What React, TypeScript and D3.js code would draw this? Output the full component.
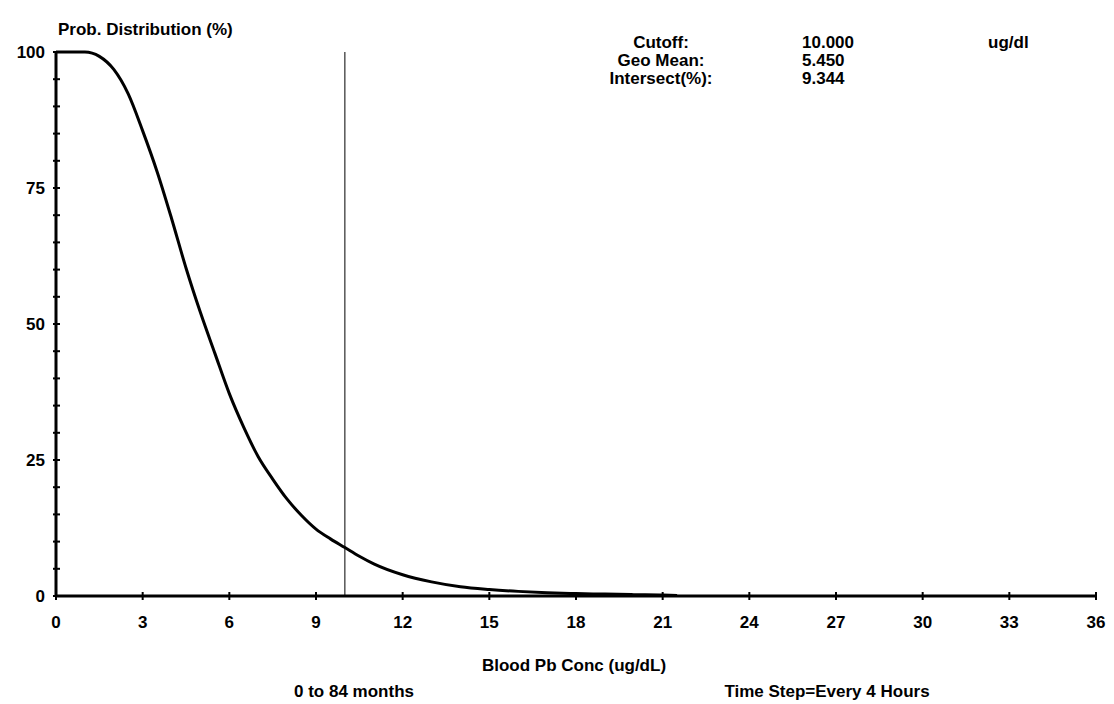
import React from "react";
import * as d3 from "d3";

// blood lead concentration (ug/dL) vs. probability of exceeding (%)
const conc = [0, 0.5, 1, 1.5, 2, 2.5, 3, 3.5, 4, 4.5, 5, 5.5, 6, 6.5, 7, 7.5, 8, 8.5, 9, 9.5, 10, 10.5, 11, 12, 13, 14, 15, 16, 17, 18, 19, 20, 21, 21.5];
const prob = [100, 100, 100, 99.2, 96.8, 92.3, 85.5, 78, 69.4, 60.3, 52.1, 44.6, 37.2, 31, 25.6, 21.5, 17.8, 14.8, 12.3, 10.5, 8.9, 7.3, 5.9, 3.9, 2.6, 1.7, 1.2, 0.85, 0.6, 0.45, 0.35, 0.25, 0.18, 0.1];

const xTicks = [0, 3, 6, 9, 12, 15, 18, 21, 24, 27, 30, 33, 36];
const yTicks = [0, 25, 50, 75, 100];
const yMinorTicks = [5, 10, 15, 20, 30, 35, 40, 45, 55, 60, 65, 70, 80, 85, 90, 95];

const cutoff = 10;
const infoLabels = ["Cutoff:", "Geo Mean:", "Intersect(%):"];
const infoValues = ["10.000", "5.450", "9.344"];

const font = "'Liberation Sans', Arial, sans-serif";

export default function App() {
  const W = 1114, H = 704;
  const left = 56, right = 1096, top = 52, bottom = 596;

  const x = d3.scaleLinear().domain([0, 36]).range([left, right]);
  const y = d3.scaleLinear().domain([0, 100]).range([bottom, top]);

  const line = d3.line<number>()
    .x((d, i) => x(conc[i]))
    .y(d => y(d))
    .curve(d3.curveMonotoneX);

  const txt = { fontFamily: font, fontWeight: 700, fontSize: 17, fill: "#000" } as const;

  return (
    <svg width={W} height={H} style={{ position: "absolute", left: 0, top: 0, background: "#fff" }}>
      {/* axes */}
      <line x1={left} x2={left} y1={top} y2={bottom} stroke="#000" strokeWidth={3} />
      <line x1={left} x2={right} y1={bottom} y2={bottom} stroke="#000" strokeWidth={3} />

      {yTicks.concat(yMinorTicks).map(t => (
        <line key={"yt" + t} x1={left - 3} x2={left + 4} y1={y(t)} y2={y(t)} stroke="#000" strokeWidth={2} />
      ))}
      {yTicks.map(t => (
        <text key={"yl" + t} x={45} y={y(t)} dy="0.36em" textAnchor="end" {...txt}>{t}</text>
      ))}

      {xTicks.map(t => (
        <g key={"xt" + t}>
          <line x1={x(t)} x2={x(t)} y1={bottom - 4} y2={bottom + 4} stroke="#000" strokeWidth={2} />
          <text x={x(t)} y={622} dy="0.36em" textAnchor="middle" {...txt}>{t}</text>
        </g>
      ))}

      {/* cutoff line */}
      <line x1={x(cutoff)} x2={x(cutoff)} y1={top} y2={bottom} stroke="#000" strokeWidth={1} />

      {/* distribution curve */}
      <path d={line(prob) || ""} fill="none" stroke="#000" strokeWidth={3} strokeLinejoin="round" />

      {/* titles */}
      <text x={58} y={29} dy="0.36em" {...txt}>Prob. Distribution (%)</text>
      <text x={574} y={665} dy="0.36em" textAnchor="middle" {...txt}>Blood Pb Conc (ug/dL)</text>
      <text x={354} y={691} dy="0.36em" textAnchor="middle" {...txt}>0 to 84 months</text>
      <text x={827} y={691} dy="0.36em" textAnchor="middle" {...txt}>Time Step=Every 4 Hours</text>

      {/* info block */}
      {infoLabels.map((l, i) => (
        <g key={l}>
          <text x={661} y={42 + i * 18} dy="0.36em" textAnchor="middle" {...txt}>{l}</text>
          <text x={802} y={42 + i * 18} dy="0.36em" {...txt}>{infoValues[i]}</text>
        </g>
      ))}
      <text x={988} y={42} dy="0.36em" {...txt}>ug/dl</text>
    </svg>
  );
}
